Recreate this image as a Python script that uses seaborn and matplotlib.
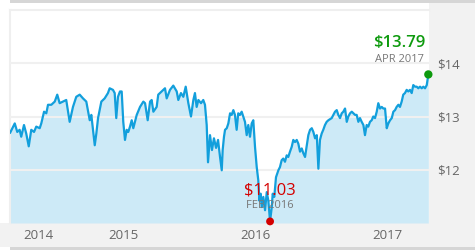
import matplotlib
matplotlib.use("Agg")
import matplotlib.pyplot as plt
from matplotlib.patches import Rectangle
import seaborn as sns
import pandas as pd

# ---- data (decimal year, price in $) ----
years = [
    2014.144, 2014.180, 2014.199, 2014.217, 2014.229, 2014.250, 2014.267, 2014.286, 2014.305, 2014.326,
    2014.343, 2014.369, 2014.381, 2014.402, 2014.419, 2014.432, 2014.457, 2014.483, 2014.502, 2014.520,
    2014.545, 2014.570, 2014.596, 2014.621, 2014.646, 2014.672, 2014.697, 2014.722, 2014.748, 2014.760,
    2014.786, 2014.798, 2014.811, 2014.836, 2014.861, 2014.886, 2014.899, 2014.924, 2014.937, 2014.949,
    2014.962, 2014.977, 2014.990, 2015.002, 2015.015, 2015.028, 2015.040, 2015.053, 2015.066, 2015.078,
    2015.104, 2015.129, 2015.154, 2015.167, 2015.187, 2015.205, 2015.217, 2015.230, 2015.255, 2015.267,
    2015.293, 2015.318, 2015.331, 2015.356, 2015.381, 2015.407, 2015.419, 2015.439, 2015.457, 2015.475,
    2015.495, 2015.515, 2015.533, 2015.545, 2015.558, 2015.571, 2015.591, 2015.608, 2015.621, 2015.634,
    2015.644, 2015.659, 2015.674, 2015.689, 2015.705, 2015.720, 2015.735, 2015.748, 2015.755, 2015.765,
    2015.773, 2015.786, 2015.798, 2015.811, 2015.823, 2015.836, 2015.848, 2015.861, 2015.873, 2015.886,
    2015.899, 2015.911, 2015.924, 2015.937, 2015.949, 2015.962, 2015.975, 2015.987, 2016.000, 2016.013,
    2016.025, 2016.033, 2016.043, 2016.051, 2016.063, 2016.076, 2016.089, 2016.101, 2016.114, 2016.127,
    2016.134, 2016.146, 2016.159, 2016.169, 2016.177, 2016.189, 2016.202, 2016.214, 2016.227, 2016.240,
    2016.252, 2016.265, 2016.278, 2016.290, 2016.303, 2016.316, 2016.328, 2016.341, 2016.354, 2016.366,
    2016.379, 2016.392, 2016.404, 2016.417, 2016.430, 2016.442, 2016.455, 2016.468, 2016.480, 2016.492,
    2016.505, 2016.517, 2016.530, 2016.543, 2016.556, 2016.581, 2016.606, 2016.619, 2016.631, 2016.644,
    2016.657, 2016.669, 2016.682, 2016.695, 2016.707, 2016.720, 2016.733, 2016.745, 2016.758, 2016.770,
    2016.783, 2016.795, 2016.808, 2016.821, 2016.833, 2016.846, 2016.858, 2016.871, 2016.884, 2016.896,
    2016.909, 2016.922, 2016.934, 2016.947, 2016.960, 2016.972, 2016.985, 2016.998, 2017.010, 2017.023,
    2017.036, 2017.048, 2017.061, 2017.073, 2017.086, 2017.098, 2017.111, 2017.123, 2017.136, 2017.149,
    2017.161, 2017.174, 2017.187, 2017.199, 2017.212, 2017.225, 2017.237, 2017.250, 2017.263, 2017.275,
    2017.288, 2017.301, 2017.313,
]
prices = [
    12.69, 12.87, 12.71, 12.75, 12.62, 12.84, 12.68, 12.44, 12.75, 12.71,
    12.81, 12.78, 12.87, 13.09, 13.06, 13.22, 13.22, 13.28, 13.41, 13.25,
    13.28, 13.31, 12.90, 13.18, 13.37, 13.41, 13.34, 13.28, 12.93, 13.03,
    12.46, 12.68, 12.97, 13.28, 13.34, 13.44, 13.53, 13.50, 13.44, 12.97,
    13.37, 13.47, 13.47, 12.90, 12.56, 12.75, 12.71, 12.81, 12.93, 12.78,
    13.03, 13.18, 13.28, 13.25, 12.93, 13.28, 13.31, 13.09, 13.18, 13.41,
    13.47, 13.53, 13.34, 13.50, 13.58, 13.47, 13.31, 13.44, 13.37, 13.56,
    13.25, 13.00, 13.31, 13.44, 13.18, 13.31, 13.25, 13.31, 13.22, 12.84,
    12.14, 12.65, 12.37, 12.59, 12.41, 12.56, 12.24, 11.99, 12.37, 12.62,
    12.75, 12.78, 12.87, 13.06, 13.03, 13.12, 13.03, 12.75, 13.06, 13.03,
    13.09, 13.00, 12.90, 12.65, 12.84, 12.62, 12.87, 12.93, 12.43, 12.05,
    11.80, 11.42, 11.55, 11.30, 11.49, 11.24, 11.58, 11.42, 11.03, 11.30,
    11.55, 11.49, 11.86, 11.93, 11.99, 12.05, 12.18, 12.21, 12.15, 12.27,
    12.24, 12.34, 12.43, 12.56, 12.52, 12.56, 12.49, 12.34, 12.40, 12.31,
    12.24, 12.46, 12.65, 12.75, 12.78, 12.71, 12.59, 12.65, 12.02, 12.56,
    12.68, 12.75, 12.84, 12.90, 12.93, 12.97, 13.09, 13.12, 13.03, 12.97,
    13.06, 13.09, 13.15, 12.90, 13.00, 13.06, 13.09, 13.06, 13.03, 13.03,
    12.90, 12.97, 12.90, 12.84, 12.65, 12.84, 12.81, 12.90, 12.93, 13.00,
    12.97, 13.09, 13.25, 13.15, 13.18, 13.15, 13.15, 12.78, 12.87, 12.93,
    12.97, 13.09, 13.12, 13.18, 13.22, 13.18, 13.28, 13.41, 13.44, 13.50,
    13.47, 13.50, 13.44, 13.59, 13.56, 13.56, 13.53, 13.56, 13.53, 13.56,
    13.53, 13.59, 13.79,
]
year_labels = ["2014", "2015", "2016", "2017"]
year_label_pos = [2014.356, 2015, 2016, 2017]
year_grid = [2015, 2016, 2017]
price_ticks = [12, 13, 14]
price_tick_labels = ["$12", "$13", "$14"]
low_label = ("$11.03", "FEB 2016")
high_label = ("$13.79", "APR 2017")

df = pd.DataFrame({"year": years, "price": prices})

# ---- style ----
sns.set_theme(style="white")
plt.rcParams["font.family"] = ["Open Sans", "DejaVu Sans"]

W, H = 475, 250
fig = plt.figure(figsize=(W / 100, H / 100), dpi=100, facecolor="white")

panel = "#f2f2f2"
edge = "#d6d6d6"
# right and bottom gray panels, darker top/bottom strips (behind the axes)
for (x0, y0, w, h, c) in [
    (429 / W, 3 / H, 1 - 429 / W, 245 / H, panel),
    (0, 3 / H, 1, 24 / H, panel),
    (10 / W, 0, 1 - 10 / W, 3 / H, edge),
    (10 / W, 1 - 2.5 / H, 1 - 10 / W, 2.5 / H, edge),
]:
    fig.patches.append(Rectangle((x0, y0), w, h, transform=fig.transFigure,
                                 facecolor=c, edgecolor="none", zorder=-5))

ax = fig.add_axes([10 / W, 27 / H, 419 / W, 213 / H])
ax.set_zorder(1)
ax.set_facecolor("white")

line_c = "#129fdc"
fill_c = "#cdeaf7"
ax.fill_between(df["year"], df["price"], 11, color=fill_c, linewidth=0, zorder=1)
sns.lineplot(data=df, x="year", y="price", ax=ax, color=line_c, linewidth=1.6, zorder=3)

ax.set_xlim(years[0], 2017.318)
ax.set_ylim(11, 15)

# ticks / grid
ax.set_xticks(year_label_pos)
ax.set_xticklabels(year_labels)
ax.set_xticks(year_grid, minor=True)
ax.set_yticks(price_ticks)
ax.set_yticklabels(price_tick_labels)
ax.yaxis.tick_right()
ax.tick_params(axis="both", which="both", length=0, labelcolor="#666666", labelsize=9.5)
ax.tick_params(axis="y", pad=6)
ax.tick_params(axis="x", pad=4)
ax.set_axisbelow(False)
ax.grid(False)
ax.xaxis.grid(True, which="minor", color="#f0f0f0", linewidth=1.5, zorder=2)
ax.yaxis.grid(True, which="major", color="#f0f0f0", linewidth=1.5, zorder=2)
ax.set_xlabel("")
ax.set_ylabel("")

for s in ["right", "bottom"]:
    ax.spines[s].set_visible(False)
for s in ["left", "top"]:
    ax.spines[s].set_color("#efefef")
    ax.spines[s].set_linewidth(1.5)

# low / high markers and labels
i_lo = prices.index(min(prices))
i_hi = len(prices) - 1
lo_x, lo_y = years[i_lo], prices[i_lo]
hi_x, hi_y = years[i_hi], prices[i_hi]

ax.scatter([lo_x], [lo_y], s=32, color="#d40000", zorder=5, clip_on=False, edgecolors="none")
ax.scatter([hi_x], [hi_y], s=36, color="#0e9a0e", zorder=5, clip_on=False, edgecolors="none")

ax.annotate(low_label[0], (lo_x, lo_y), xytext=(0, 31), textcoords="offset pixels",
            ha="center", va="center", color="#d40000", fontsize=12, zorder=6)
ax.annotate(low_label[1], (lo_x, lo_y), xytext=(0, 16), textcoords="offset pixels",
            ha="center", va="center", color="#777777", fontsize=8, zorder=6)
ax.annotate(high_label[0], (hi_x, hi_y), xytext=(-3, 31), textcoords="offset pixels",
            ha="right", va="center", color="#0e9a0e", fontsize=12, fontweight="semibold", zorder=6)
ax.annotate(high_label[1], (hi_x, hi_y), xytext=(-4, 15), textcoords="offset pixels",
            ha="right", va="center", color="#777777", fontsize=8, zorder=6)

fig.savefig("out.png", dpi=100, facecolor=fig.get_facecolor())
